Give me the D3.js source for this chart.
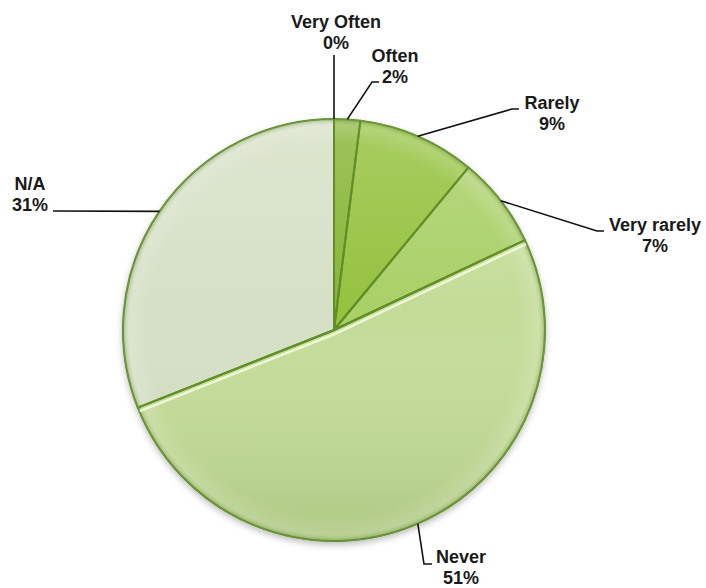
<!DOCTYPE html>
<html>
<head>
<meta charset="utf-8">
<script src="https://cdn.jsdelivr.net/npm/d3@7"></script>
<style>
  body { margin: 0; background: #fff; }
  svg { display: block; }
  .lbl { font-family: "Liberation Sans", Arial, sans-serif; font-weight: bold; font-size: 18px; fill: #1a1a1a; }
</style>
</head>
<body>
<div id="chart"></div>
<script>
// data
const categories = ["Very Often", "Often", "Rarely", "Very rarely", "Never", "N/A"];
const percents = [0, 2, 9, 7, 51, 31];
const sliceColors = ["#86b436", "#88b638", "#96c23f", "#aad068", "#c4dc98", "#d6e0c6"];

// label placement (text centre x, first baseline y, leader elbow, leader end)
const labelLayout = [
    {x: 336, y: 28, elbow: [334, 55], end: [334, 55]},
    {x: 395, y: 62, elbow: [372, 82], end: [379, 82]},
    {x: 552, y: 109, elbow: [512, 109], end: [519, 109]},
    {x: 655, y: 231, elbow: [597, 231], end: [604, 231]},
    {x: 461, y: 563, elbow: [424, 564], end: [432, 564]},
    {x: 30, y: 190, elbow: [53, 211], end: [53, 211]}
];

const width = 706, height = 588;
const cx = 334, cy = 330, radius = 211;

const svg = d3.select("#chart").append("svg")
    .attr("width", width)
    .attr("height", height);

const defs = svg.append("defs");

// soft drop shadow under the pie
const shadow = defs.append("filter").attr("id", "shadow")
    .attr("x", "-10%").attr("y", "-10%").attr("width", "120%").attr("height", "125%");
shadow.append("feDropShadow")
    .attr("dx", 0).attr("dy", 3).attr("stdDeviation", 3)
    .attr("flood-color", "#000").attr("flood-opacity", 0.25);

// top-to-bottom light
const shade = defs.append("linearGradient").attr("id", "shade")
    .attr("x1", 0).attr("y1", 0).attr("x2", 0).attr("y2", 1);
shade.append("stop").attr("offset", "0%").attr("stop-color", "#fff").attr("stop-opacity", 0.18);
shade.append("stop").attr("offset", "45%").attr("stop-color", "#fff").attr("stop-opacity", 0.0);
shade.append("stop").attr("offset", "100%").attr("stop-color", "#3a5a10").attr("stop-opacity", 0.16);

// darker rim
const rim = defs.append("radialGradient").attr("id", "rim");
rim.append("stop").attr("offset", "88%").attr("stop-color", "#fff").attr("stop-opacity", 0);
rim.append("stop").attr("offset", "97%").attr("stop-color", "#fff").attr("stop-opacity", 0.15);
rim.append("stop").attr("offset", "100%").attr("stop-color", "#4f7a1c").attr("stop-opacity", 0.35);

const pie = d3.pie().sort(null).value(d => d.value);
const arcs = pie(categories.map((c, i) => ({name: c, value: percents[i], color: sliceColors[i], i: i})));

const arc = d3.arc().innerRadius(0).outerRadius(radius);

const g = svg.append("g").attr("transform", `translate(${cx},${cy})`);

const pieG = g.append("g").attr("filter", "url(#shadow)");
pieG.selectAll(".slice")
    .data(arcs.filter(d => d.data.value > 0))
    .enter().append("path")
    .attr("class", "slice")
    .attr("d", arc)
    .attr("fill", d => d.data.color)
    .attr("stroke", "#5f8f25")
    .attr("stroke-width", 2)
    .attr("stroke-linejoin", "round");

// light overlays
g.append("circle").attr("r", radius).attr("fill", "url(#shade)");
g.append("circle").attr("r", radius).attr("fill", "url(#rim)");

// bevel highlight along the straight edges of the Never slice
const never = arcs[4];
const off = 4;
const hl = d3.line();
[never.startAngle, never.endAngle].forEach((a, k) => {
    const nx = Math.cos(a), ny = Math.sin(a);
    const side = k === 0 ? 1 : -1;
    g.append("path")
        .attr("d", hl([[side * off * nx, side * off * ny],
                       [radius * Math.sin(a) + side * off * nx, -radius * Math.cos(a) + side * off * ny]]))
        .attr("stroke", "#f4f9df")
        .attr("stroke-width", 2.5)
        .attr("stroke-opacity", 0.9);
});
// separators on top
arcs.forEach(d => {
    const a = d.startAngle;
    g.append("line")
        .attr("x1", 0).attr("y1", 0)
        .attr("x2", radius * Math.sin(a)).attr("y2", -radius * Math.cos(a))
        .attr("stroke", "#5f8f25")
        .attr("stroke-width", d.i === 4 || d.i === 5 ? 3 : 2);
});
g.append("circle").attr("r", radius).attr("fill", "none")
    .attr("stroke", "#6f9640").attr("stroke-width", 1.2);

// leaders and labels
const line = d3.line();
arcs.forEach(d => {
    const L = labelLayout[d.index];
    const mid = (d.startAngle + d.endAngle) / 2;
    const p0 = [cx + radius * Math.sin(mid), cy - radius * Math.cos(mid)];
    svg.append("path")
        .attr("d", line([p0, L.elbow, L.end]))
        .attr("fill", "none")
        .attr("stroke", "#111")
        .attr("stroke-width", 1.6);
    const t = svg.append("text")
        .attr("class", "lbl")
        .attr("text-anchor", "middle")
        .attr("x", L.x).attr("y", L.y);
    t.append("tspan").attr("x", L.x).text(d.data.name);
    t.append("tspan").attr("x", L.x).attr("dy", 21).text(d.data.value + "%");
});
</script>
</body>
</html>
